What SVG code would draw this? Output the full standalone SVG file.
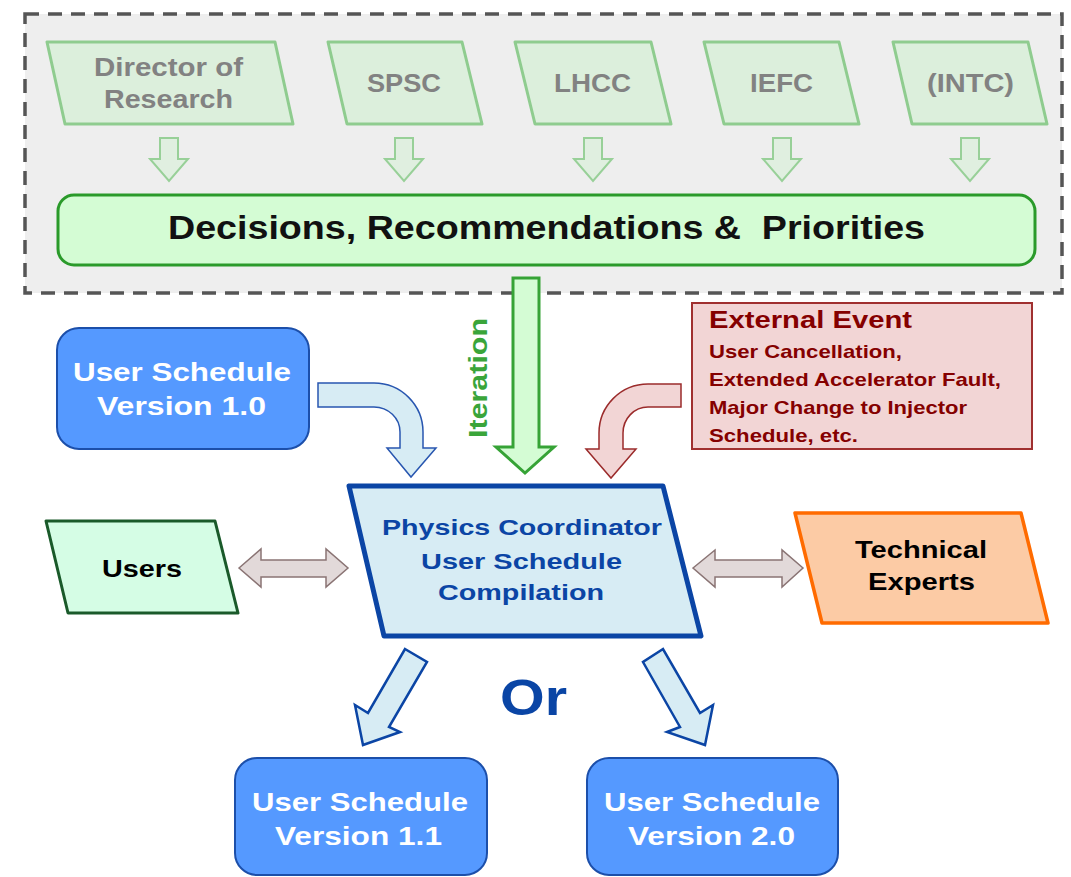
<svg xmlns="http://www.w3.org/2000/svg" width="1071" height="877" viewBox="0 0 1071 877">
<style>
text{font-family:"Liberation Sans",Arial,sans-serif;font-weight:bold}
.src{fill:#dcefdc;stroke:#8fcc8f;stroke-width:3;stroke-linejoin:round}
.srct{fill:#828282;font-size:26px}
.sarr{fill:#e0efe0;stroke:#98d098;stroke-width:2}
.blue{fill:#5599ff;stroke:#1c4faa;stroke-width:2}
.bt{fill:#ffffff;font-size:26px}
.ltb{fill:#d7ecf4;stroke:#0b45a5;stroke-width:2.5;stroke-linejoin:miter}
.dbl{fill:#e2d9d9;stroke:#8a7474;stroke-width:1.5}
.ev{fill:#850000;font-size:19px}
.pc{fill:#0b45a5;font-size:22px}
</style>
<rect id="frame" x="25" y="14" width="1037" height="279" fill="#eeeeee" stroke="#555555" stroke-width="3.5" stroke-dasharray="14 9"/>

<g id="director"><polygon class="src" points="47,42 275,42 293,124 65,124"/>
<text class="srct" x="94" y="76" textLength="149" lengthAdjust="spacingAndGlyphs">Director of</text>
<text class="srct" x="104" y="108" textLength="129" lengthAdjust="spacingAndGlyphs">Research</text></g>
<g id="spsc"><polygon class="src" points="328,42 462,42 482,124 347,124"/>
<text class="srct" x="367" y="92" textLength="74" lengthAdjust="spacingAndGlyphs">SPSC</text></g>
<g id="lhcc"><polygon class="src" points="515,42 651,42 671,124 535,124"/>
<text class="srct" x="554" y="92" textLength="77" lengthAdjust="spacingAndGlyphs">LHCC</text></g>
<g id="iefc"><polygon class="src" points="704,42 839,42 859,124 724,124"/>
<text class="srct" x="750" y="92" textLength="63" lengthAdjust="spacingAndGlyphs">IEFC</text></g>
<g id="intc"><polygon class="src" points="893,42 1028,42 1047,124 912,124"/>
<text class="srct" x="927" y="92" textLength="87" lengthAdjust="spacingAndGlyphs">(INTC)</text></g>

<g id="decisions"><rect x="58" y="195" width="977" height="70" rx="16" fill="#d4fcd4" stroke="#2a9a2a" stroke-width="3"/>
<text x="168" y="239" font-size="33" fill="#111111" textLength="757" lengthAdjust="spacingAndGlyphs">Decisions, Recommendations &amp;&#160; Priorities</text></g>

<g id="connectors">
<polygon class="sarr" points="160,138 178,138 178,159 188,159 169,181 150,159 160,159"/>
<polygon class="sarr" points="395,138 413,138 413,159 423,159 404,181 385,159 395,159"/>
<polygon class="sarr" points="584,138 602,138 602,159 612,159 593,181 574,159 584,159"/>
<polygon class="sarr" points="773,138 791,138 791,159 801,159 782,181 763,159 773,159"/>
<polygon class="sarr" points="961,138 979,138 979,159 989,159 970,181 951,159 961,159"/>
<polygon points="513,278 539,278 539,447 554,447 525,473 496,447 513,447" fill="#d4fcd4" stroke="#36a336" stroke-width="3"/>
<text x="487" y="378" font-size="26" fill="#3aa53a" text-anchor="middle" transform="rotate(-90 487 378)" textLength="120" lengthAdjust="spacingAndGlyphs">Iteration</text>
<path d="M318,383 H374 A49,49 0 0 1 423,432 V448 H436 L411,477 L387,448 H400 V432 A26,25 0 0 0 374,407 H318 Z" fill="#d7ecf4" stroke="#2856b0" stroke-width="1.5"/>
<path d="M681,384 H648 A49,49 0 0 0 599,433 V449 H586 L611,478 L636,449 H623 V433 A25,26 0 0 1 648,407 H681 Z" fill="#f2d5d5" stroke="#9b2b2b" stroke-width="1.5"/>
<polygon class="dbl" points="239,568 261,549 261,560 326,560 326,549 348,568 326,587 326,577 261,577 261,587"/>
<polygon class="dbl" points="693,568 715,550 715,560 782,560 782,550 803,568 782,587 782,577 715,577 715,587"/>
<polygon class="ltb" points="405,649 427,662 389,727 400,732 363,745 355,705 368,713"/>
<polygon class="ltb" points="663,649 643,662 680,727 667,732 705,745 713,705 700,713"/>
</g>

<g id="v10"><rect class="blue" x="57" y="328" width="252" height="121" rx="22"/>
<text class="bt" x="73" y="381" textLength="218" lengthAdjust="spacingAndGlyphs">User Schedule</text>
<text class="bt" x="97" y="415" textLength="169" lengthAdjust="spacingAndGlyphs">Version 1.0</text></g>

<g id="external"><rect x="692" y="303" width="340" height="146" fill="#f2d5d5" stroke="#a03030" stroke-width="2"/>
<text class="ev" x="709" y="328" style="font-size:23px" textLength="203" lengthAdjust="spacingAndGlyphs">External Event</text>
<text class="ev" x="709" y="358" textLength="193" lengthAdjust="spacingAndGlyphs">User Cancellation,</text>
<text class="ev" x="709" y="386" textLength="292" lengthAdjust="spacingAndGlyphs">Extended Accelerator Fault,</text>
<text class="ev" x="709" y="414" textLength="258" lengthAdjust="spacingAndGlyphs">Major Change to Injector</text>
<text class="ev" x="709" y="442" textLength="149" lengthAdjust="spacingAndGlyphs">Schedule, etc.</text></g>

<g id="users"><polygon points="46,521 215,521 238,613 68,613" fill="#d5fde5" stroke="#1a5a2a" stroke-width="3" stroke-linejoin="round"/>
<text x="102" y="577" font-size="23" fill="#000000" textLength="80" lengthAdjust="spacingAndGlyphs">Users</text></g>

<g id="physics"><polygon points="349,486 663,486 701,636 384,636" fill="#d7ecf4" stroke="#0b45a5" stroke-width="5" stroke-linejoin="round"/>
<text class="pc" x="382" y="535" textLength="280" lengthAdjust="spacingAndGlyphs">Physics Coordinator</text>
<text class="pc" x="421" y="569" textLength="201" lengthAdjust="spacingAndGlyphs">User Schedule</text>
<text class="pc" x="438" y="600" textLength="166" lengthAdjust="spacingAndGlyphs">Compilation</text></g>

<g id="technical"><polygon points="795,513 1021,513 1048,623 822,623" fill="#fccba5" stroke="#ff6b00" stroke-width="3.5" stroke-linejoin="round"/>
<text x="855" y="558" font-size="24" fill="#000000" textLength="132" lengthAdjust="spacingAndGlyphs">Technical</text>
<text x="868" y="590" font-size="24" fill="#000000" textLength="107" lengthAdjust="spacingAndGlyphs">Experts</text></g>

<g id="or"><text x="500" y="715" font-size="50" fill="#0a45a5" textLength="67" lengthAdjust="spacingAndGlyphs">Or</text></g>

<g id="v11"><rect class="blue" x="235" y="758" width="252" height="117" rx="22"/>
<text class="bt" x="252" y="811" textLength="216" lengthAdjust="spacingAndGlyphs">User Schedule</text>
<text class="bt" x="275" y="845" textLength="167" lengthAdjust="spacingAndGlyphs">Version 1.1</text></g>

<g id="v20"><rect class="blue" x="587" y="758" width="251" height="117" rx="22"/>
<text class="bt" x="604" y="811" textLength="216" lengthAdjust="spacingAndGlyphs">User Schedule</text>
<text class="bt" x="628" y="845" textLength="167" lengthAdjust="spacingAndGlyphs">Version 2.0</text></g>
</svg>
